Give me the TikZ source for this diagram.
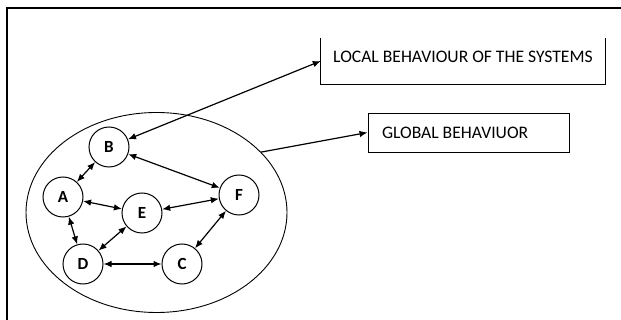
\documentclass[tikz,border=0pt]{standalone}
\usepackage{fontspec}
\setmainfont{Carlito}
\usetikzlibrary{shapes.geometric,arrows.meta}

\begin{document}
\begin{tikzpicture}[x=1pt,y=-1pt,>={Latex[length=8pt,width=6.5pt]},
  agent/.style={circle,draw,line width=1pt,minimum size=40pt,inner sep=0pt,font=\fontsize{17}{19}\selectfont\bfseries},
  link/.style={<->,line width=1.2pt},
  label box/.style={inner sep=0pt,font=\fontsize{17.6}{19}\selectfont}]
\useasboundingbox (0,0) rectangle (621,320);
\draw[line width=2pt] (6.5,320) -- (6.5,8.5) -- (621,8.5);

% the system
\node[ellipse,draw,line width=0.9pt,minimum width=261pt,minimum height=200pt,inner sep=0pt] (sys) at (156.5,212.5) {};
\node[agent] (B) at (109,147) {B};
\node[agent] (A) at (63,197) {A};
\node[agent] (E) at (142,213) {E};
\node[agent] (F) at (239,195) {F};
\node[agent] (D) at (83,264) {D};
\node[agent] (C) at (182,264) {C};

% the two boxes
\node[label box,minimum width=284pt,minimum height=46pt,text height=11pt,text depth=8pt] (local) at (463,61) {LOCAL BEHAVIOUR OF THE SYSTEMS};
\draw[line width=0.9pt] (local.north west) -- (local.south west) -- (local.south east) -- (local.north east);
\node[label box,draw,line width=0.9pt,inner xsep=14pt,text width=173pt,align=flush left,minimum height=39pt] (global) at (468.5,132.5) {GLOBAL BEHAVIUOR};

\draw[link] (B) -- (A);
\draw[link] (B) -- (F);
\draw[link] (A) -- (E);
\draw[link] (A) -- (D);
\draw[link] (E) -- (F);
\draw[link] (E) -- (D);
\draw[link] (F) -- (C);
\draw[link] (D) -- (C);
\draw[link] (B) -- (local.west);
\draw[->,line width=1.2pt] (sys.30) -- (global.west);
\end{tikzpicture}
\end{document}
